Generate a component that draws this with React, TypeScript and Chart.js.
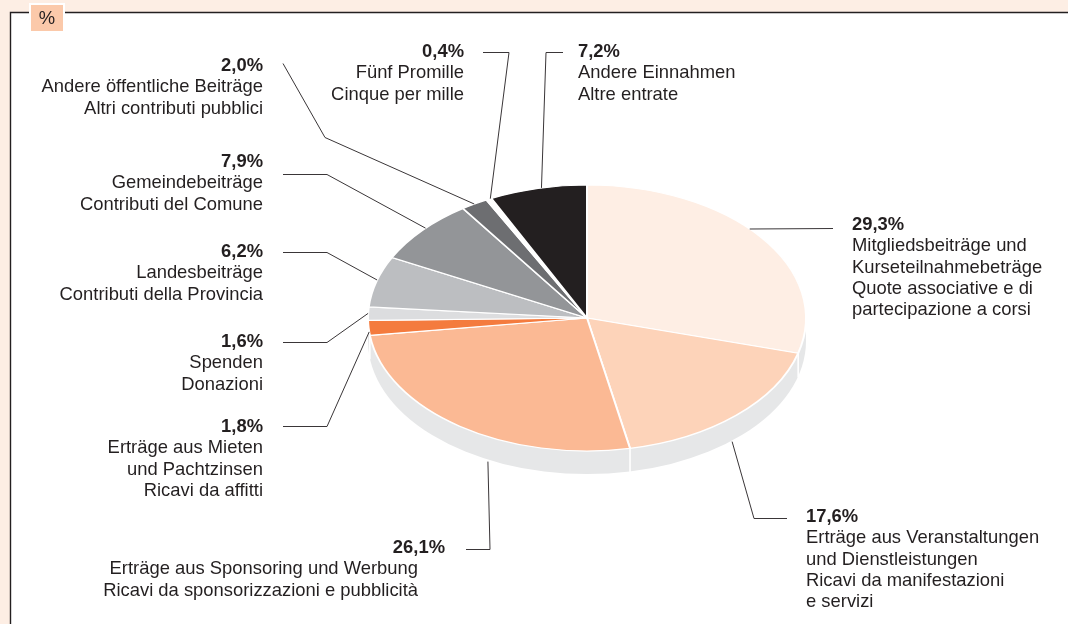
import React, { useEffect, useRef } from "react";
import { Chart, registerables } from "chart.js";

Chart.register(...registerables);

// ---------- data ----------
const categories: string[][] = [
  ["Mitgliedsbeiträge und", "Kurseteilnahmebeträge", "Quote associative e di", "partecipazione a corsi"],
  ["Erträge aus Veranstaltungen", "und Dienstleistungen", "Ricavi da manifestazioni", "e servizi"],
  ["Erträge aus Sponsoring und Werbung", "Ricavi da sponsorizzazioni e pubblicità"],
  ["Erträge aus Mieten", "und Pachtzinsen", "Ricavi da affitti"],
  ["Spenden", "Donazioni"],
  ["Landesbeiträge", "Contributi della Provincia"],
  ["Gemeindebeiträge", "Contributi del Comune"],
  ["Andere öffentliche Beiträge", "Altri contributi pubblici"],
  ["Fünf Promille", "Cinque per mille"],
  ["Andere Einnahmen", "Altre entrate"],
];
const values: number[] = [29.3, 17.6, 26.1, 1.8, 1.6, 6.2, 7.9, 2.0, 0.4, 7.2];
const valueLabels: string[] = ["29,3%", "17,6%", "26,1%", "1,8%", "1,6%", "6,2%", "7,9%", "2,0%", "0,4%", "7,2%"];
const unitLabel = "%";

// ---------- styles ----------
const sliceColors = [
  "#feeee4", "#fdd3b9", "#fbb994", "#f47b3e", "#dcdddf",
  "#bcbec1", "#939598", "#6d6e71", "#ffffff", "#231f20",
];
const SIDE_COLOR = "#e6e7e8";
const BG = "#fdeee4";
const INK = "#231f20";
const FONT = "'Liberation Sans', Arial, Helvetica, sans-serif";
const FS = 18.4;
const LH = 21.3;
const K = 133 / 219; // vertical squash of the pie
const DEPTH = 23;

type LabelLayout = {
  angle: number; // anchor angle, degrees clockwise from top
  depth: number; // anchor drop onto side wall
  pts: [number, number][];
  x: number;
  pctX?: number;
  y: number;
  align: "left" | "right";
};

const labelLayout: LabelLayout[] = [
  { angle: 48, depth: 0, pts: [[833, 228]], x: 852, y: 225, align: "left" },
  { angle: 138.5, depth: 24, pts: [[754, 518], [787, 518]], x: 806, y: 517, align: "left" },
  { angle: 206.9, depth: 25, pts: [[490, 549], [466, 549]], x: 418, pctX: 445, y: 548, align: "right" },
  { angle: 264, depth: 0, pts: [[327, 426], [283, 426]], x: 263, y: 427, align: "right" },
  { angle: 272, depth: 0, pts: [[327, 342], [283, 342]], x: 263, y: 342, align: "right" },
  { angle: 286.6, depth: 0, pts: [[327, 252], [283, 252]], x: 263, y: 252, align: "right" },
  { angle: 312.5, depth: 0, pts: [[327, 174], [283, 174]], x: 263, y: 162, align: "right" },
  { angle: 329, depth: 0, pts: [[325, 137], [283, 63]], x: 263, y: 66, align: "right" },
  { angle: 333.8, depth: 0, pts: [[509, 52], [483, 52]], x: 464, y: 52, align: "right" },
  { angle: 348, depth: 0, pts: [[546, 52], [563, 52]], x: 578, y: 52, align: "left" },
];

const W = 1068;
const H = 624;

const pie3dPlugin = {
  id: "pie3d",
  beforeDraw(chart: any) {
    const ctx: CanvasRenderingContext2D = chart.ctx;
    ctx.save();
    ctx.fillStyle = BG;
    ctx.fillRect(0, 0, W, H);
    ctx.fillStyle = "#ffffff";
    ctx.fillRect(10, 12, W - 10, H - 12);
    ctx.strokeStyle = INK;
    ctx.lineWidth = 1.4;
    ctx.beginPath();
    ctx.moveTo(W, 12.5);
    ctx.lineTo(10.5, 12.5);
    ctx.lineTo(10.5, H);
    ctx.stroke();
    // unit box
    ctx.fillStyle = "#fbc9aa";
    ctx.fillRect(30, 4, 34, 28);
    ctx.strokeStyle = "#ffffff";
    ctx.lineWidth = 2;
    ctx.strokeRect(30, 4, 34, 28);
    ctx.fillStyle = INK;
    ctx.font = `${FS}px ${FONT}`;
    ctx.textAlign = "center";
    ctx.textBaseline = "middle";
    ctx.fillText(unitLabel, 47, 19);
    ctx.restore();
  },
  beforeDatasetsDraw(chart: any) {
    const ctx: CanvasRenderingContext2D = chart.ctx;
    const meta = chart.getDatasetMeta(0);
    const a0 = meta.data[0];
    if (!a0) return;
    const cx = a0.x, cy = a0.y, R = a0.outerRadius, ry = R * K;
    ctx.save();
    ctx.fillStyle = SIDE_COLOR;
    ctx.beginPath();
    ctx.ellipse(cx, cy, R, ry, 0, 0, Math.PI, false);
    ctx.lineTo(cx - R, cy + DEPTH);
    ctx.ellipse(cx, cy + DEPTH, R, ry, 0, Math.PI, 0, true);
    ctx.closePath();
    ctx.fill();
    ctx.strokeStyle = "#ffffff";
    ctx.lineWidth = 1.6;
    meta.data.forEach((arc: any) => {
      const phi = arc.startAngle;
      const s = Math.sin(phi);
      if (s > 0.02) {
        const x = cx + R * Math.cos(phi);
        const y = cy + ry * s;
        ctx.beginPath();
        ctx.moveTo(x, y);
        ctx.lineTo(x, y + DEPTH + 1);
        ctx.stroke();
      }
    });
    ctx.restore();
    ctx.save();
    ctx.translate(0, cy);
    ctx.scale(1, K);
    ctx.translate(0, -cy);
  },
  afterDatasetsDraw(chart: any) {
    chart.ctx.restore();
  },
  afterDraw(chart: any) {
    const ctx: CanvasRenderingContext2D = chart.ctx;
    const meta = chart.getDatasetMeta(0);
    const a0 = meta.data[0];
    if (!a0) return;
    const cx = a0.x, cy = a0.y, R = a0.outerRadius, ry = R * K;
    ctx.save();
    ctx.strokeStyle = "#3a3638";
    ctx.lineWidth = 1;
    labelLayout.forEach((L, i) => {
      const phi = ((L.angle - 90) * Math.PI) / 180;
      const ax = cx + R * Math.cos(phi);
      const ay = cy + ry * Math.sin(phi) + L.depth;
      ctx.beginPath();
      ctx.moveTo(ax, ay);
      L.pts.forEach(([x, y]) => ctx.lineTo(x, y + 0.5));
      ctx.stroke();

      ctx.fillStyle = INK;
      ctx.textBaseline = "middle";
      ctx.textAlign = L.align;
      ctx.font = `bold ${FS}px ${FONT}`;
      ctx.fillText(valueLabels[i], L.pctX ?? L.x, L.y);
      ctx.font = `${FS}px ${FONT}`;
      categories[i].forEach((line, j) => {
        ctx.fillText(line, L.x, L.y + LH * (j + 1));
      });
    });
    ctx.restore();
  },
};

export default function App() {
  const ref = useRef<HTMLCanvasElement | null>(null);
  useEffect(() => {
    if (!ref.current) return;
    const chart = new Chart(ref.current, {
      type: "pie",
      data: {
        labels: categories.map((c) => c[0]),
        datasets: [
          {
            data: values,
            backgroundColor: sliceColors,
            borderColor: "#ffffff",
            borderWidth: 2,
          },
        ],
      },
      options: {
        animation: false,
        responsive: false,
        devicePixelRatio: 1,
        events: [],
        radius: 219,
        layout: { padding: { left: 287, right: 181, top: 18, bottom: 6 } },
        plugins: { legend: { display: false }, tooltip: { enabled: false }, title: { display: false } },
      } as any,
      plugins: [pie3dPlugin],
    });
    return () => chart.destroy();
  }, []);
  return (
    <div style={{ position: "fixed", left: 0, top: 0, width: W, height: H }}>
      <canvas ref={ref} width={W} height={H} style={{ width: W, height: H, display: "block" }} />
    </div>
  );
}
